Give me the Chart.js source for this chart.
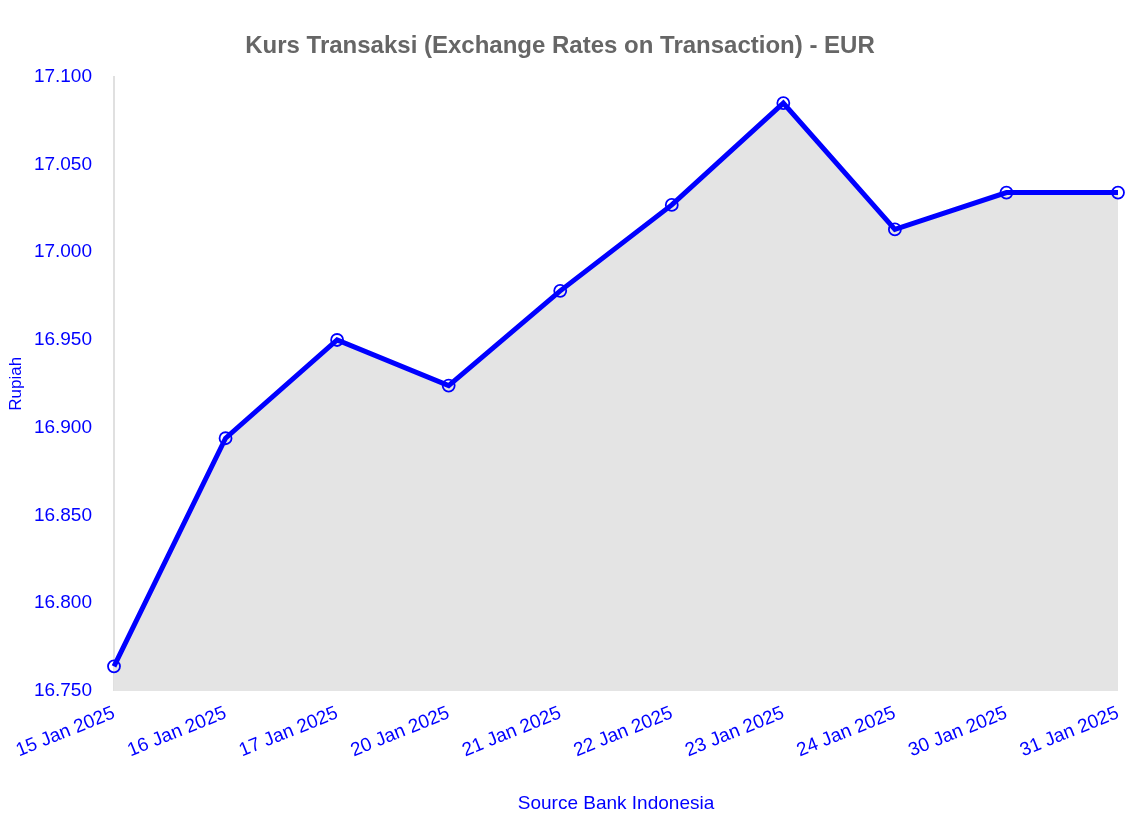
<!DOCTYPE html>
<html>
<head>
<meta charset="utf-8">
<script src="https://cdn.jsdelivr.net/npm/chart.js@4"></script>
<style>
  body { margin: 0; background: #fff; }
  #wrap { width: 1146px; height: 828px; }
</style>
</head>
<body>
<div id="wrap"><canvas id="rate-chart"></canvas></div>
<script>
const dates = [
  "15 Jan 2025", "16 Jan 2025", "17 Jan 2025", "20 Jan 2025", "21 Jan 2025",
  "22 Jan 2025", "23 Jan 2025", "24 Jan 2025", "30 Jan 2025", "31 Jan 2025",
];
const kursEUR = [16764, 16894, 16950, 16924, 16978, 17027, 17085, 17013, 17034, 17034];
const yMin = 16750;
const yMax = 17100;
const yStep = 50;

const rateChart = document.getElementById("rate-chart");

new Chart(rateChart, {
  type: "line",
  data: {
    labels: dates,
    datasets: [
      {
        label: "EUR",
        data: kursEUR,
        borderColor: "#0000ff",
        borderWidth: 5,
        backgroundColor: "#e4e4e4",
        fill: true,
        tension: 0,
        pointRadius: 6,
        pointBorderWidth: 1.8,
        pointBorderColor: "#0000ff",
        pointBackgroundColor: "rgba(0,0,0,0)",
      },
    ],
  },
  options: {
    responsive: true,
    maintainAspectRatio: false,
    animation: false,
    locale: "id-ID",
    layout: { padding: { left: 2, right: 28, top: 32, bottom: 9 } },
    scales: {
      y: {
        min: yMin,
        max: yMax,
        afterFit: (scale) => { scale.width = 112; },
        ticks: { stepSize: yStep, padding: 14, color: "#0000ff", font: { family: "Liberation Sans", size: 19 } },
        grid: { display: false },
        border: { color: "#e0e0e0", width: 2 },
        title: { display: true, text: "Rupiah", color: "#0000ff", font: { family: "Liberation Sans", size: 17 } },
      },
      x: {
        ticks: { color: "#0000ff", maxRotation: 22, minRotation: 22, font: { family: "Liberation Sans", size: 19 } },
        grid: { display: false },
        border: { display: false },
        title: { display: true, text: "Source Bank Indonesia", color: "#0000ff", font: { family: "Liberation Sans", size: 19 }, padding: { top: 27 } },
      },
    },
    plugins: {
      legend: { display: false },
      title: {
        display: true,
        text: "Kurs Transaksi (Exchange Rates on Transaction) - EUR",
        color: "#666666",
        font: { family: "Liberation Sans", size: 24, weight: "bold" },
        padding: { bottom: 16 },
      },
    },
  },
});
</script>
</body>
</html>
